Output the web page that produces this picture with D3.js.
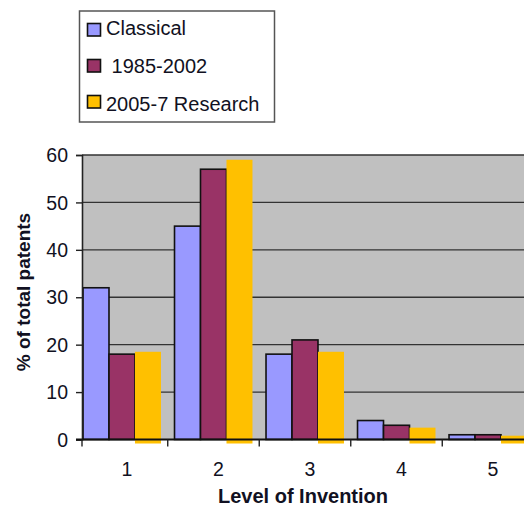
<!DOCTYPE html>
<html>
<head>
<meta charset="utf-8">
<script src="https://cdn.jsdelivr.net/npm/d3@7"></script>
<style>
  html, body { margin: 0; padding: 0; background: #ffffff; }
  svg { display: block; }
  text { font-family: "Liberation Sans", Arial, sans-serif; fill: #111122; }
</style>
</head>
<body>
<svg id="chart" width="524" height="506"></svg>
<script>
// Share of patents by level of invention
const levels = ["1", "2", "3", "4", "5"];
const seriesNames = ["Classical", "1985-2002", "2005-7 Research"];
const classical = [32, 45, 18, 4, 1];
const period8502 = [18, 57, 21, 3, 1];
const research0507 = [18.5, 59, 18.5, 2.5, 0.8];
const yTicks = [0, 10, 20, 30, 40, 50, 60];

const seriesValues = [classical, period8502, research0507];
const colors = ["#9999ff", "#993366", "#ffc000"];
const outlined = [true, true, false];

const svg = d3.select("#chart");
const plot = { left: 82, right: 560, top: 155, bottom: 439.5 };

const y = d3.scaleLinear().domain([0, 60]).range([plot.bottom, plot.top]);
const x0 = d3.scaleBand().domain(levels).range([82, 528])
  .paddingInner(0.148).paddingOuter(0.011);
const x1 = d3.scaleBand().domain(seriesNames).range([0, x0.bandwidth()]);

// plot area
svg.append("rect")
  .attr("x", plot.left).attr("y", plot.top)
  .attr("width", plot.right - plot.left).attr("height", plot.bottom - plot.top)
  .attr("fill", "#c0c0c0");

// horizontal gridlines
svg.append("g").selectAll("line")
  .data(yTicks.filter(d => d > 0))
  .join("line")
  .attr("x1", plot.left).attr("x2", plot.right)
  .attr("y1", d => y(d)).attr("y2", d => y(d))
  .attr("stroke", "#333333").attr("stroke-width", 1.4);

// bars
const rows = levels.map((lv, i) => ({
  level: lv,
  vals: seriesNames.map((s, j) => ({ series: s, j, value: seriesValues[j][i] }))
}));

svg.append("g").selectAll("g")
  .data(rows)
  .join("g")
  .attr("transform", d => `translate(${x0(d.level)},0)`)
  .selectAll("rect")
  .data(d => d.vals)
  .join("rect")
  .attr("x", d => x1(d.series))
  .attr("y", d => y(d.value))
  .attr("width", x1.bandwidth())
  .attr("height", d => y(0) - y(d.value) + (outlined[d.j] ? 0 : 4))
  .attr("fill", d => colors[d.j])
  .attr("stroke", d => outlined[d.j] ? "#111111" : "none")
  .attr("stroke-width", 1.6);

// y axis
const yAxis = svg.append("g").attr("transform", `translate(${plot.left},0)`)
  .call(d3.axisLeft(y).tickValues(yTicks).tickSize(6).tickPadding(8));
yAxis.select(".domain").attr("stroke", "#222222").attr("stroke-width", 1.6);
yAxis.selectAll(".tick line").attr("stroke", "#222222").attr("stroke-width", 1.4);
yAxis.selectAll(".tick text")
  .style("font-family", "'Liberation Sans', Arial, sans-serif")
  .style("font-size", "19.5px").attr("fill", "#111122").attr("dy", "0.34em");

// x axis: baseline, separators between categories, labels
const step = x0.step();
const gap = step - x0.bandwidth();
const sepX = [plot.left].concat(levels.slice(1).map(l => x0(l) - gap / 2));
svg.append("line")
  .attr("x1", plot.left - 6).attr("x2", plot.right)
  .attr("y1", y(0)).attr("y2", y(0))
  .attr("stroke", "#111111").attr("stroke-width", 2);
svg.append("g").selectAll("line")
  .data(sepX)
  .join("line")
  .attr("x1", d => d).attr("x2", d => d)
  .attr("y1", y(0)).attr("y2", y(0) + 7)
  .attr("stroke", "#222222").attr("stroke-width", 1.4);
svg.append("g").selectAll("text")
  .data(levels)
  .join("text")
  .attr("x", d => x0(d) + x0.bandwidth() / 2 + 5)
  .attr("y", 476)
  .attr("text-anchor", "middle")
  .style("font-size", "19.5px")
  .text(d => d);

// axis titles
svg.append("text")
  .attr("x", 303).attr("y", 503)
  .attr("text-anchor", "middle")
  .style("font-size", "20px").style("font-weight", "bold")
  .text("Level of Invention");
svg.append("text")
  .attr("transform", "translate(30,292) rotate(-90)")
  .attr("text-anchor", "middle")
  .style("font-size", "19px").style("font-weight", "bold")
  .text("% of total patents");

// legend
const legend = svg.append("g");
legend.append("rect")
  .attr("x", 79.5).attr("y", 11).attr("width", 195).attr("height", 111)
  .attr("fill", "#ffffff").attr("stroke", "#555555").attr("stroke-width", 1.5);
const legendLabels = ["Classical", "\u00a01985-2002", "2005-7 Research"];
const legendItems = legend.selectAll("g.item")
  .data(seriesNames)
  .join("g")
  .attr("class", "item")
  .attr("transform", "translate(87,0)");
legendItems.append("rect")
  .attr("x", 0.5).attr("y", (d, i) => 23.5 + i * 36)
  .attr("width", 13).attr("height", 12.5)
  .attr("fill", (d, i) => colors[i])
  .attr("stroke", "#111111").attr("stroke-width", 1.6);
legendItems.append("text")
  .attr("x", 19).attr("y", (d, i) => 34.5 + i * 38.3)
  .style("font-size", "20px")
  .text((d, i) => legendLabels[i]);
</script>
</body>
</html>
